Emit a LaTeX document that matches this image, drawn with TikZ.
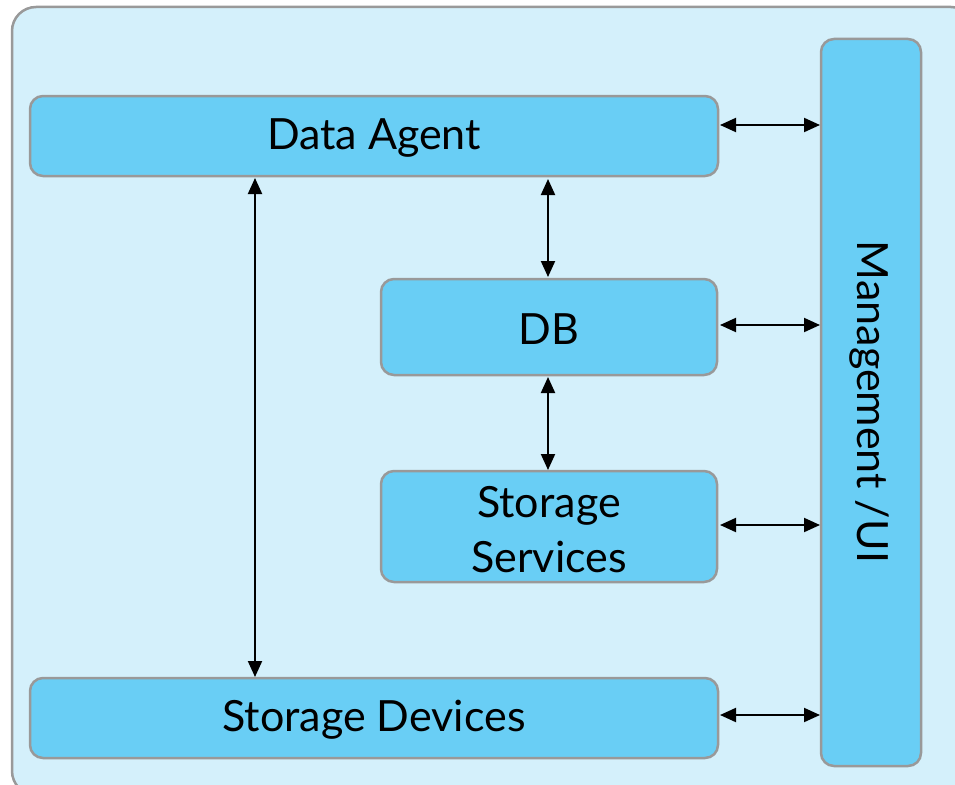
\documentclass[tikz,border=0pt]{standalone}
\usepackage{fontspec}
\setmainfont{Lato}
\usetikzlibrary{arrows.meta}
\definecolor{outerfill}{RGB}{212,240,251}
\definecolor{boxfill}{RGB}{105,206,245}
\definecolor{edgegray}{RGB}{153,153,153}
\tikzset{
  blk/.style={draw=edgegray, line width=2.5pt, fill=boxfill, rounded corners=13pt},
  lbl/.style={font=\fontsize{43}{55}\selectfont, align=center},
  link/.style={line width=2pt, {Triangle[length=16pt,width=14pt]}-{Triangle[length=16pt,width=14pt]}}
}
\begin{document}
\begin{tikzpicture}[x=1pt,y=-1pt]
\useasboundingbox (0,0) rectangle (955,784);
\begin{scope}
\clip (0,0) rectangle (955,784);
\draw[draw=edgegray, line width=2.5pt, fill=outerfill, rounded corners=24pt] (12,7) rectangle (975,795);
\end{scope}
% blocks
\draw[blk] (30,96) rectangle (718,176);
\node[lbl] (da) at (374,138) {Data Agent};
\draw[blk] (381,279) rectangle (717,375);
\node[lbl] (db) at (549,329) {DB};
\draw[blk] (381,471) rectangle (717,582);
\node[lbl, text width=300pt] (ss) at (549,530) {Storage\\Services};
\draw[blk] (30,678) rectangle (718,758);
\node[lbl] (sd) at (374,720) {Storage Devices};
\draw[blk] (821,39) rectangle (921,766);
\node[lbl, rotate=-90] (mg) at (869,402) {Management /UI};
% anchor coordinates
\coordinate (daR) at (720,125);
\coordinate (mgA) at (820,125);
\coordinate (dbR) at (720,325);
\coordinate (mgB) at (820,325);
\coordinate (ssR) at (720,525);
\coordinate (mgC) at (820,525);
\coordinate (sdR) at (720,715);
\coordinate (mgD) at (820,715);
\coordinate (daB1) at (548,179);
\coordinate (dbT) at (548,277);
\coordinate (dbB) at (548,377);
\coordinate (ssT) at (548,470);
\coordinate (daB2) at (255,178);
\coordinate (sdT) at (255,677);
\draw[link] (daR) -- (mgA);
\draw[link] (dbR) -- (mgB);
\draw[link] (ssR) -- (mgC);
\draw[link] (sdR) -- (mgD);
\draw[link] (daB1) -- (dbT);
\draw[link] (dbB) -- (ssT);
\draw[link] (daB2) -- (sdT);
\end{tikzpicture}
\end{document}
